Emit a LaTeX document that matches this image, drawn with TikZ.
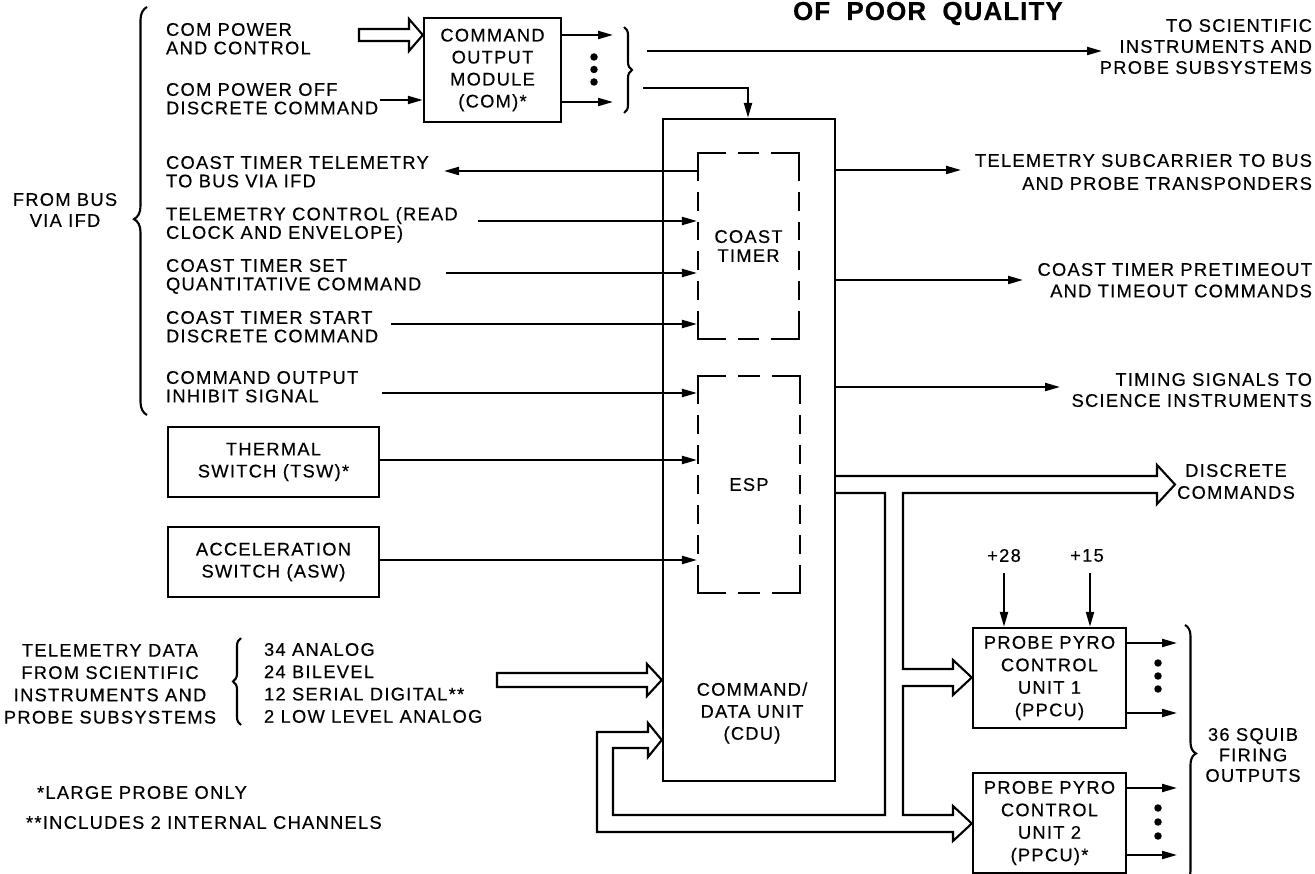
\documentclass[tikz,border=0pt]{standalone}
\usepackage{fontspec}
\setmainfont{Liberation Sans}[LetterSpace=7,FakeBold=0.4]
\usetikzlibrary{arrows.meta,decorations.pathreplacing}
\newcommand\fa{\fontsize{18.3}{18.5}\selectfont}
\newcommand\fb{\fontsize{18.3}{22}\selectfont}
\newcommand\fc{\fontsize{18.3}{21}\selectfont}
\begin{document}
\begin{tikzpicture}[x=1pt,y=-1pt,line width=2.1pt,
  box/.style={draw,line width=2.4pt,inner sep=0pt,font=\fb,align=center},
  lbl/.style={inner sep=0pt,font=\fa,align=left},
  arr/.style={-{Triangle[length=15pt,width=8pt]}},
  dot/.style={circle,fill,inner sep=0pt,minimum size=7.5pt},
  dsh/.style={line width=2.4pt}]
\useasboundingbox (0,0) rectangle (1315,874);
\clip (0,0) rectangle (1315,874);

% header
\node[anchor=base west,inner sep=0pt,font=\fontsize{26}{26}\selectfont\bfseries\addfontfeature{LetterSpace=4}] (hdr) at (792,20) {OF\hspace{8pt} POOR\hspace{8pt} QUALITY};

% COM
\node[box,minimum width=137pt,minimum height=104pt] (com) at (492.5,70) {COMMAND\\OUTPUT\\MODULE\\(COM)*};
\node[lbl,anchor=north west] (cpc) at (165,22) {COM POWER\\AND CONTROL};
\draw (359,29) -- (409,29) -- (409,19) -- (com.west |- 0,35) -- (409,51) -- (409,41) -- (359,41) -- cycle;
\node[lbl,anchor=north west] (cpo) at (165,82) {COM POWER OFF\\DISCRETE COMMAND};
\draw[arr] (380,100) -- (com.west |- 0,100);
\draw[arr] (com.east |- 0,35) -- (613,35);
\draw[arr] (com.east |- 0,102) -- (613,102);
\node[dot] (cd1) at (594,57) {};
\node[dot] (cd2) at (594,69.5) {};
\node[dot] (cd3) at (594,82) {};
\draw[decorate,decoration={brace,amplitude=8pt}] (624,27) -- (624,113);
\coordinate (sci) at (1102,51);
\draw[arr] (647,51) -- (sci);
\node[inner sep=0pt,font=\fc,align=right,anchor=north east] (scit) at (1313,18) {TO SCIENTIFIC\\INSTRUMENTS AND\\PROBE SUBSYSTEMS};

% CDU
\node[draw,line width=2.4pt,minimum width=172pt,minimum height=662pt,inner sep=0pt] (cdu) at (749,450) {};
\node[font=\fb,align=center,inner sep=0pt] (cdut) at (752,713) {COMMAND/\\DATA UNIT\\(CDU)};
\draw[arr] (643,88) -- (748,88) -- (748,0 |- cdu.north);

% coast timer (dashed)
\node[minimum width=101pt,minimum height=186pt,inner sep=0pt,font=\fontsize{18.3}{19}\selectfont,align=center] (ct) at (748.5,246) {COAST\\TIMER};
\draw[dsh] (698,181) -- (698,153) -- (726,153);
\draw[dsh] (771,153) -- (799,153) -- (799,181);
\draw[dsh] (799,311) -- (799,339) -- (771,339);
\draw[dsh] (726,339) -- (698,339) -- (698,311);
\draw[dsh] (738,153) -- (759,153);
\draw[dsh] (738,339) -- (759,339);
\draw[dsh,dash pattern=on 18.75pt off 11pt] (698,192) -- (698,300);
\draw[dsh,dash pattern=on 18.75pt off 11pt] (799,192) -- (799,300);

% ESP (dashed)
\node[minimum width=102pt,minimum height=217pt,inner sep=0pt,font=\fa] (esp) at (749,484.5) {ESP};
\draw[dsh] (698,404) -- (698,376) -- (726,376);
\draw[dsh] (772,376) -- (800,376) -- (800,404);
\draw[dsh] (800,565) -- (800,593) -- (772,593);
\draw[dsh] (726,593) -- (698,593) -- (698,565);
\draw[dsh] (738,376) -- (760,376);
\draw[dsh] (738,593) -- (760,593);
\draw[dsh,dash pattern=on 19pt off 11pt] (698,415) -- (698,554);
\draw[dsh,dash pattern=on 19pt off 11pt] (800,415) -- (800,554);

% left inputs
\node[inner sep=0pt,font=\fc,align=center,anchor=north] (fb) at (65,192) {FROM BUS\\VIA IFD};
\draw[decorate,decoration={brace,amplitude=13pt,aspect=0.48}] (147,415) -- (147,7);
\node[lbl,anchor=north west] (ctt) at (165,155) {COAST TIMER TELEMETRY\\TO BUS VIA IFD};
\draw[arr] (ct.west |- 0,171) -- (444,171);
\node[lbl,anchor=north west] (tmc) at (165,206) {TELEMETRY CONTROL (READ\\CLOCK AND ENVELOPE)};
\draw[arr] (478,221) -- (ct.west |- 0,221);
\node[lbl,anchor=north west] (cts) at (165,258) {COAST TIMER SET\\QUANTITATIVE COMMAND};
\draw[arr] (446,273) -- (ct.west |- 0,273);
\node[lbl,anchor=north west] (ctst) at (165,310) {COAST TIMER START\\DISCRETE COMMAND};
\draw[arr] (391,324) -- (ct.west |- 0,324);
\node[lbl,anchor=north west] (coi) at (165,370) {COMMAND OUTPUT\\INHIBIT SIGNAL};
\draw[arr] (382,393) -- (esp.west |- 0,393);
\node[box,minimum width=211pt,minimum height=70pt] (tsw) at (273.5,462) {THERMAL\\SWITCH (TSW)*};
\draw[arr] (tsw.east |- 0,460) -- (esp.west |- 0,460);
\node[box,minimum width=211pt,minimum height=70pt] (asw) at (273.5,562) {ACCELERATION\\SWITCH (ASW)};
\draw[arr] (asw.east |- 0,560) -- (esp.west |- 0,560);

% right outputs
\draw[arr] (cdu.east |- 0,170) -- (961,170);
\node[inner sep=0pt,font=\fontsize{18.3}{23}\selectfont,align=right,anchor=north east] (tsc) at (1313,153) {TELEMETRY SUBCARRIER TO BUS\\AND PROBE TRANSPONDERS};
\draw[arr] (cdu.east |- 0,280) -- (1023,280);
\node[inner sep=0pt,font=\fontsize{18.3}{21.5}\selectfont,align=right,anchor=north east] (cpt) at (1313,262) {COAST TIMER PRETIMEOUT\\AND TIMEOUT COMMANDS};
\draw[arr] (cdu.east |- 0,387) -- (1060,387);
\node[inner sep=0pt,font=\fc,align=right,anchor=north east] (tst) at (1313,372) {TIMING SIGNALS TO\\SCIENCE INSTRUMENTS};
\node[inner sep=0pt,font=\fb,align=center,anchor=north] (dc) at (1236,463) {DISCRETE\\COMMANDS};

% PPCUs
\node[box,minimum width=153pt,minimum height=100pt,font=\fontsize{18.3}{22.5}\selectfont] (pp1) at (1049.5,678) {PROBE PYRO\\CONTROL\\UNIT 1\\(PPCU)};
\node[box,minimum width=153pt,minimum height=100pt,font=\fontsize{18.3}{22.5}\selectfont] (pp2) at (1049.5,823) {PROBE PYRO\\CONTROL\\UNIT 2\\(PPCU)*};
\node[inner sep=0pt,font=\fa,anchor=north] (p28) at (1004,548) {+28};
\node[inner sep=0pt,font=\fa,anchor=north] (p15) at (1087,548) {+15};
\draw[arr] (1004,573) -- (1004,0 |- pp1.north);
\draw[arr] (1090,573) -- (1090,0 |- pp1.north);
\draw[arr] (pp1.east |- 0,643) -- (1177,643);
\draw[arr] (pp1.east |- 0,713) -- (1177,713);
\node[dot] (e1) at (1158,663) {};
\node[dot] (e2) at (1158,676) {};
\node[dot] (e3) at (1158,689) {};
\draw[arr] (pp2.east |- 0,788) -- (1177,788);
\draw[arr] (pp2.east |- 0,855) -- (1177,855);
\node[dot] (f1) at (1158,808) {};
\node[dot] (f2) at (1158,822) {};
\node[dot] (f3) at (1158,836) {};
\draw[decorate,decoration={brace,amplitude=11pt}] (1185,625) -- (1185,882);
\node[inner sep=0pt,font=\fontsize{18.3}{20.5}\selectfont,align=center,anchor=north] (sq) at (1253,727) {36 SQUIB\\FIRING\\OUTPUTS};

% double-line bus
\draw (cdu.east |- 0,476) -- (1157,476) -- (1157,465) -- (1175,484.5) -- (1157,504) -- (1157,493)
  -- (903,493) -- (903,669) -- (953,669) -- (953,660) -- (pp1.west |- 0,677.5) -- (953,695) -- (953,686)
  -- (903,686) -- (903,815) -- (953,815) -- (953,806) -- (pp2.west |- 0,823.5) -- (953,841) -- (953,832)
  -- (597,832) -- (597,732) -- (648,732) -- (648,723) -- (cdu.west |- 0,740) -- (648,757) -- (648,748)
  -- (613,748) -- (613,815) -- (885,815) -- (885,493) -- (cdu.east |- 0,493);

% telemetry data
\node[inner sep=0pt,font=\fontsize{18.3}{22.3}\selectfont,align=center,anchor=north] (tdt) at (110,643) {TELEMETRY DATA\\FROM SCIENTIFIC\\INSTRUMENTS AND\\PROBE SUBSYSTEMS};
\draw[decorate,decoration={brace,amplitude=8pt}] (241,725) -- (241,638);
\node[inner sep=0pt,font=\fontsize{18.3}{22.3}\selectfont,align=left,anchor=north west] (tdl) at (263,642) {34 ANALOG\\24 BILEVEL\\12 SERIAL DIGITAL**\\2 LOW LEVEL ANALOG};
\draw (497,673) -- (647,673) -- (647,664) -- (cdu.west |- 0,680) -- (647,696) -- (647,687) -- (497,687) -- cycle;

% footnotes
\node[lbl,anchor=north west] (fn1) at (36,785) {*LARGE PROBE ONLY};
\node[lbl,anchor=north west] (fn2) at (25,815) {**INCLUDES 2 INTERNAL CHANNELS};
\end{tikzpicture}
\end{document}
